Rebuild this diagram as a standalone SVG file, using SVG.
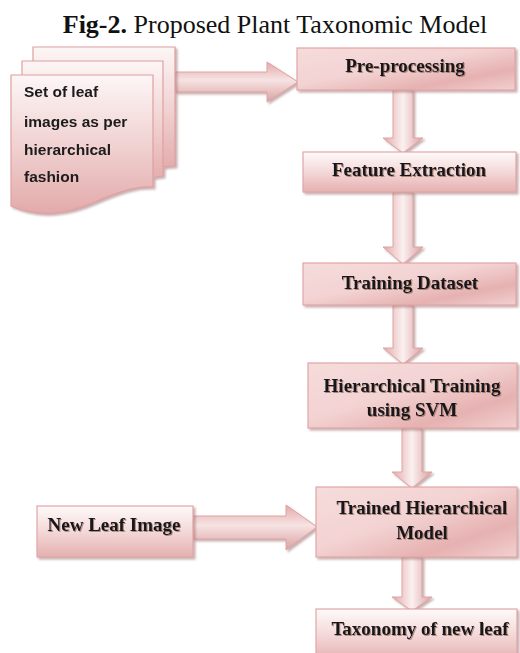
<svg xmlns="http://www.w3.org/2000/svg" width="520" height="653" viewBox="0 0 520 653">
<defs>
<linearGradient id="boxG" x1="0" y1="0" x2="1" y2="1">
<stop offset="0" stop-color="#f6dcdc"/>
<stop offset="0.45" stop-color="#f3d2d2"/>
<stop offset="0.75" stop-color="#e6b1b1"/>
<stop offset="1" stop-color="#f2d0d0"/>
</linearGradient>
<linearGradient id="boxV" x1="0" y1="0" x2="0" y2="1">
<stop offset="0" stop-color="#fefafa"/>
<stop offset="0.5" stop-color="#f4d8d8"/>
<stop offset="1" stop-color="#e5b0b0"/>
</linearGradient>
<linearGradient id="pageG" x1="0" y1="0" x2="0" y2="1">
<stop offset="0" stop-color="#fdf6f6"/>
<stop offset="0.5" stop-color="#f1d2d2"/>
<stop offset="1" stop-color="#e3aaaa"/>
</linearGradient>
<linearGradient id="arrH" x1="0" y1="0" x2="0" y2="1">
<stop offset="0" stop-color="#e3a9a9"/>
<stop offset="0.45" stop-color="#f7e3e3"/>
<stop offset="1" stop-color="#dba1a1"/>
</linearGradient>
<linearGradient id="arrV" x1="0" y1="0" x2="1" y2="0">
<stop offset="0" stop-color="#e3a9a9"/>
<stop offset="0.5" stop-color="#fbf0f0"/>
<stop offset="1" stop-color="#dba1a1"/>
</linearGradient>
<filter id="sh" x="-10%" y="-10%" width="130%" height="140%">
<feDropShadow dx="2" dy="2" stdDeviation="1" flood-color="#9c7070" flood-opacity="0.55"/>
</filter>
<filter id="tsh" x="-10%" y="-20%" width="130%" height="150%">
<feDropShadow dx="1" dy="1" stdDeviation="0.4" flood-color="#8a6a50" flood-opacity="0.7"/>
</filter>
</defs>
<style>
.box{fill:url(#boxG);stroke:#e2a6a6;stroke-width:1.2}
.boxv{fill:url(#boxV);stroke:#e2a6a6;stroke-width:1.2}
.page{fill:url(#pageG);stroke:#dfa0a0;stroke-width:1.2}
.ah{fill:url(#arrH);stroke:#dea3a3;stroke-width:1}
.av{fill:url(#arrV);stroke:#dea3a3;stroke-width:1}
.t{font-family:"Liberation Serif","Times New Roman",serif;font-weight:bold;font-size:19px;fill:#14141f;text-anchor:middle}
.d{font-family:"Liberation Sans",Arial,sans-serif;font-weight:bold;font-size:15.5px;fill:#1a1a1a}
.title{font-family:"Liberation Serif","Times New Roman",serif;font-size:26px;fill:#111;text-anchor:middle}
</style>
<text class="title" x="275" y="33"><tspan font-weight="bold">Fig-2.</tspan> Proposed Plant Taxonomic Model</text>

<g id="connectors" filter="url(#sh)">
<path class="ah" d="M175,72 H267 V62 L298,82 L267,102 V92 H175 Z"/>
<path class="av" d="M393,90 V138 H383 L403,153 L423,138 H413 V90 Z"/>
<path class="av" d="M393,192 V247 H383 L403,264 L423,247 H413 V192 Z"/>
<path class="av" d="M393,305 V348 H383 L403,364 L423,348 H413 V305 Z"/>
<path class="av" d="M402,428 V472 H392 L412,488 L432,472 H422 V428 Z"/>
<path class="av" d="M402,557 V597 H392 L412,611 L432,597 H422 V557 Z"/>
<path class="ah" d="M193,516 H286 V505 L317,527 L286,550 V539 H193 Z"/>
</g>

<g id="documents" filter="url(#sh)">
<path class="page" d="M33,47 H175 V166 C165,166 158,168 150,171 L33,171 Z"/>
<path class="page" d="M22,61 H163 V176 C152,177 143,180 134,184 L22,184 Z"/>
<path class="page" d="M11,75 H153 V187 C135,186 118,192 95,202 C70,213 42,219 11,206 Z"/>
<text class="d" x="24" y="97">Set of leaf</text>
<text class="d" x="24" y="127">images as per</text>
<text class="d" x="24" y="155">hierarchical</text>
<text class="d" x="24" y="182">fashion</text>
</g>

<g id="preprocessing">
<rect class="box" x="297" y="48" width="218" height="42" filter="url(#sh)"/>
<text class="t" x="405" y="72" filter="url(#tsh)">Pre-processing</text>
</g>
<g id="feature-extraction">
<rect class="boxv" x="303" y="152" width="213" height="40" filter="url(#sh)"/>
<text class="t" x="409" y="176" filter="url(#tsh)">Feature Extraction</text>
</g>
<g id="training-dataset">
<rect class="box" x="303" y="263" width="213" height="42" filter="url(#sh)"/>
<text class="t" x="410" y="289" filter="url(#tsh)">Training Dataset</text>
</g>
<g id="hierarchical-training">
<rect class="box" x="308" y="363" width="209" height="65" filter="url(#sh)"/>
<text class="t" x="412" y="392" filter="url(#tsh)">Hierarchical Training</text>
<text class="t" x="412" y="416" filter="url(#tsh)">using SVM</text>
</g>
<g id="new-leaf-image">
<rect class="boxv" x="37" y="506" width="156" height="51" filter="url(#sh)"/>
<text class="t" x="114" y="531" filter="url(#tsh)">New Leaf Image</text>
</g>
<g id="trained-model">
<rect class="box" x="316" y="487" width="201" height="70" filter="url(#sh)"/>
<text class="t" x="422" y="514" filter="url(#tsh)">Trained Hierarchical</text>
<text class="t" x="422" y="539" filter="url(#tsh)">Model</text>
</g>
<g id="taxonomy">
<rect class="boxv" x="316" y="609" width="201" height="52" filter="url(#sh)"/>
<text class="t" x="420" y="635" font-size="20" filter="url(#tsh)">Taxonomy of new leaf</text>
</g>
</svg>
